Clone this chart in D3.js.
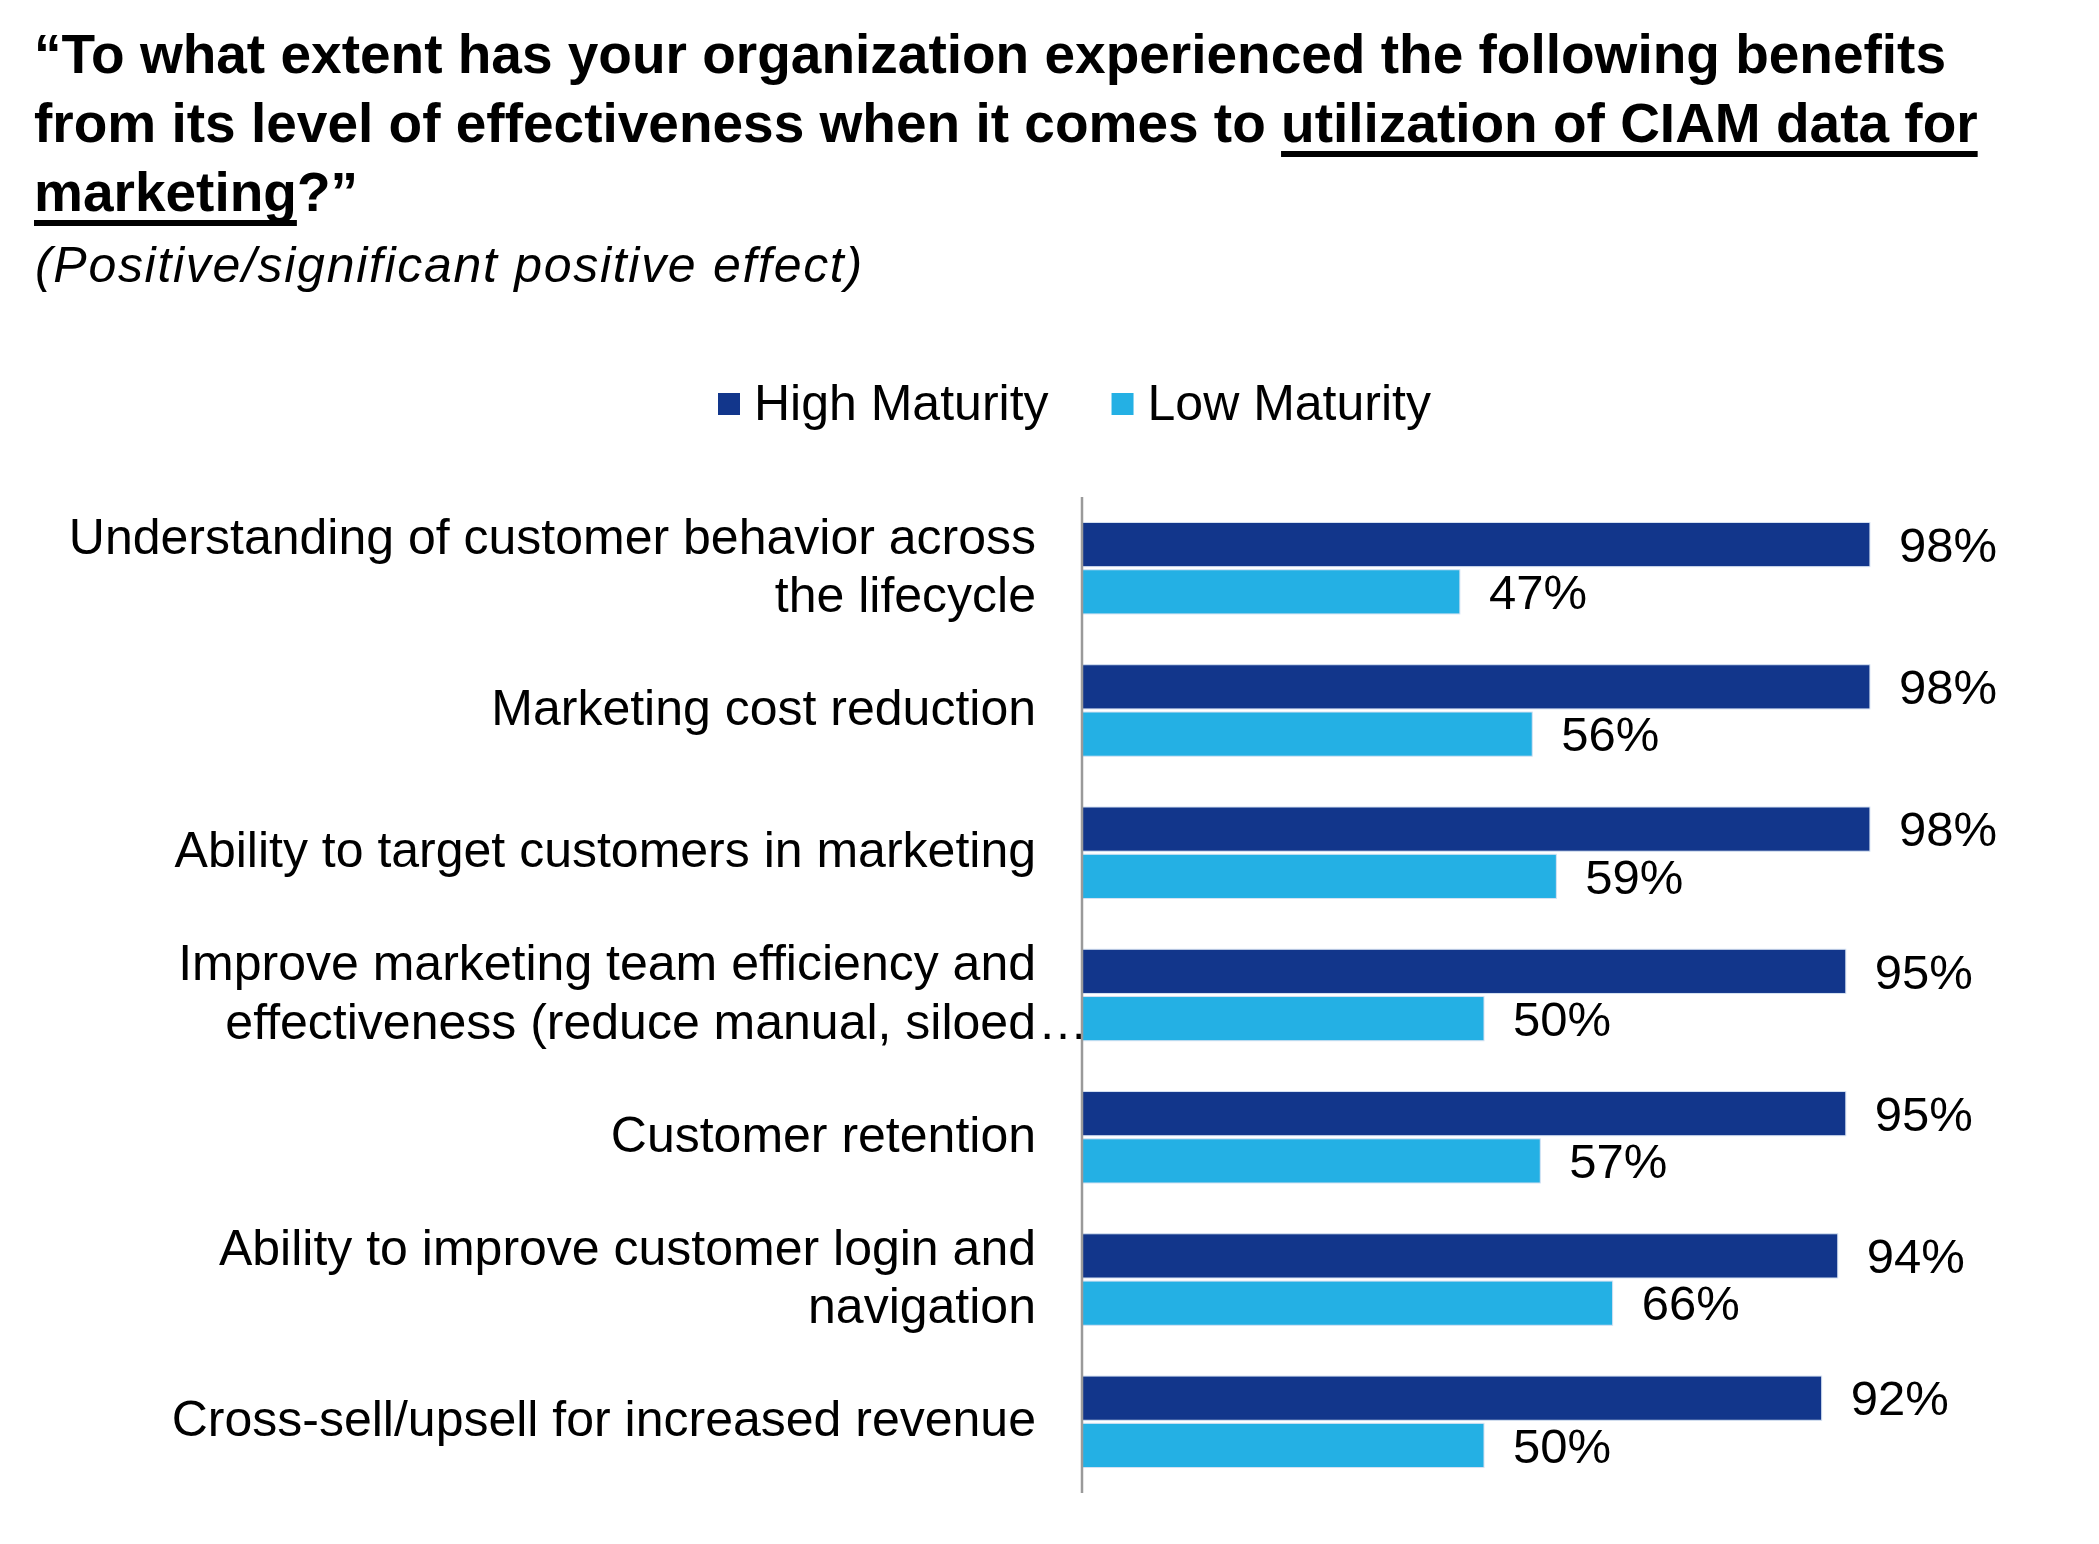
<!DOCTYPE html>
<html>
<head>
<meta charset="utf-8">
<script src="https://cdn.jsdelivr.net/npm/d3@7"></script>
<style>
  html, body { margin: 0; padding: 0; background: #ffffff; }
  svg { display: block; }
  text { font-family: "Liberation Sans", Arial, Helvetica, sans-serif; fill: #000; }
</style>
</head>
<body>
<svg id="chart" width="2099" height="1544"></svg>
<script>
// ---- data ----
const titleLines = [
  [{t: "\u201CTo what extent has your organization experienced the following benefits", u: false}],
  [{t: "from its level of effectiveness when it comes to ", u: false}, {t: "utilization of CIAM data for", u: true}],
  [{t: "marketing", u: true}, {t: "?\u201D", u: false}]
];
const subtitle = "(Positive/significant positive effect)";
const categories = [
  "Understanding of customer behavior across\nthe lifecycle",
  "Marketing cost reduction",
  "Ability to target customers in marketing",
  "Improve marketing team efficiency and\neffectiveness (reduce manual, siloed\u2026",
  "Customer retention",
  "Ability to improve customer login and\nnavigation",
  "Cross-sell/upsell for increased revenue"
];
const seriesNames = ["High Maturity", "Low Maturity"];
const highMaturity = [98, 98, 98, 95, 95, 94, 92];
const lowMaturity = [47, 56, 59, 50, 57, 66, 50];
const seriesColors = ["#12368B", "#24B0E4"];

// ---- layout ----
const svg = d3.select("#chart");
const axisX = 1082;
const x = d3.scaleLinear().domain([0, 100]).range([axisX, axisX + 804]);
const y = d3.scaleBand().domain(categories).range([497, 1493]).paddingInner(0.357).paddingOuter(0.179);
const ySub = d3.scaleBand().domain(seriesNames).range([0, y.bandwidth()]).paddingInner(0.065);

const rows = categories.map((c, i) => ({cat: c, values: [
  {s: seriesNames[0], v: highMaturity[i]},
  {s: seriesNames[1], v: lowMaturity[i]}
]}));
const color = d3.scaleOrdinal().domain(seriesNames).range(seriesColors);

// ---- title ----
const titleG = svg.append("g");
const titleBaselines = [73, 142, 211];
titleLines.forEach((parts, li) => {
  const t = titleG.append("text")
    .attr("x", 34).attr("y", titleBaselines[li])
    .attr("font-size", 55).attr("font-weight", "bold")
    .style("white-space", "pre");
  const spans = parts.map(p => ({p, node: t.append("tspan").text(p.t).node()}));
  let idx = 0;
  spans.forEach(({p}) => {
    if (p.u) {
      const tn = t.node();
      const start = tn.getStartPositionOfChar(idx).x;
      const end = tn.getEndPositionOfChar(idx + p.t.length - 1).x;
      titleG.append("rect")
        .attr("x", start).attr("y", titleBaselines[li] + 9)
        .attr("width", end - start).attr("height", 6)
        .attr("fill", "#000");
    }
    idx += p.t.length;
  });
});
svg.append("text")
  .attr("x", 35).attr("y", 282)
  .attr("font-size", 50).attr("font-style", "italic")
  .style("letter-spacing", "1.7px")
  .text(subtitle);

// ---- legend ----
const legend = svg.append("g");
let lx = 718;
seriesNames.forEach((s, i) => {
  legend.append("rect").attr("x", lx).attr("y", 393).attr("width", 22).attr("height", 22).attr("fill", color(s));
  const tx = legend.append("text").attr("x", lx + 36).attr("y", 420).attr("font-size", 50).text(s);
  lx = lx + 36 + tx.node().getComputedTextLength() + 63;
});

// ---- bars ----
const groups = svg.append("g").selectAll("g.row").data(rows).join("g")
  .attr("class", "row")
  .attr("transform", d => `translate(0,${y(d.cat)})`);

groups.selectAll("rect").data(d => d.values).join("rect")
  .attr("x", x(0))
  .attr("y", d => ySub(d.s))
  .attr("width", d => x(d.v) - x(0))
  .attr("height", ySub.bandwidth())
  .attr("fill", d => color(d.s))
  .attr("stroke", "#d6e2f2").attr("stroke-width", 1);

groups.selectAll("text.val").data(d => d.values).join("text")
  .attr("class", "val")
  .attr("x", d => x(d.v) + 29)
  .attr("y", d => ySub(d.s) + ySub.bandwidth() / 2)
  .attr("dy", "0.35em")
  .attr("font-size", 49)
  .text(d => d.v + "%");

// ---- category labels ----
const labelRight = 1036;
const lineH = 58.4;
groups.each(function(d) {
  const g = d3.select(this);
  const lines = d.cat.split("\n");
  const center = y.bandwidth() / 2 + 14.5;
  lines.forEach((ln, i) => {
    const by = center + (i - (lines.length - 1) / 2) * lineH;
    let main = ln, tail = "";
    if (ln.endsWith("\u2026")) { main = ln.slice(0, -1); tail = "\u2026"; }
    g.append("text").attr("x", labelRight).attr("y", by)
      .attr("text-anchor", "end").attr("font-size", 50).text(main);
    if (tail) {
      g.append("text").attr("x", labelRight + 2).attr("y", by)
        .attr("font-size", 50).text(tail);
    }
  });
});

// ---- axis line ----
svg.append("line")
  .attr("x1", axisX).attr("x2", axisX)
  .attr("y1", y.range()[0]).attr("y2", y.range()[1])
  .attr("stroke", "#9a9a9a").attr("stroke-width", 2.5);
</script>
</body>
</html>
